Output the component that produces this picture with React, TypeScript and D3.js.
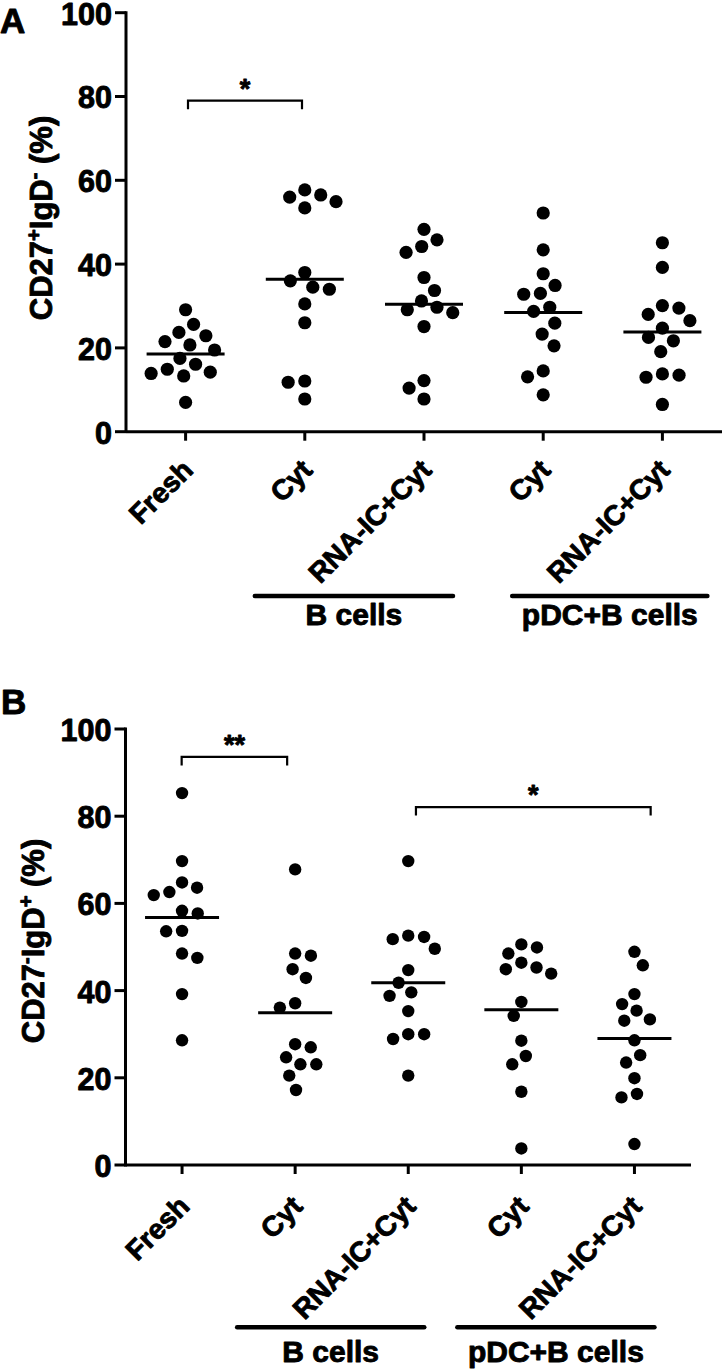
import React from "react";
import * as d3 from "d3";

// ---------- data ----------
const categories = ["Fresh", "Cyt", "RNA-IC+Cyt", "Cyt", "RNA-IC+Cyt"];
const groupLabels = ["B cells", "pDC+B cells"];
const yTicks = [0, 20, 40, 60, 80, 100];

// Panel A: CD27+IgD- (%)
const freshA = [29.1, 25.6, 23.7, 22.9, 21.5, 20.7, 19.5, 17.5, 16.1, 14.9, 14.2, 13.9, 13.3, 7.0];
const cytA = [57.7, 56.5, 56.0, 54.9, 53.4, 38.0, 36.0, 34.5, 34.0, 30.5, 26.0, 12.1, 11.8, 7.8];
const rnaA = [48.3, 45.8, 44.2, 42.8, 36.8, 33.7, 31.2, 29.7, 29.1, 28.4, 25.1, 12.2, 10.4, 7.8];
const pdcCytA = [52.2, 43.4, 37.7, 34.9, 33.0, 32.8, 29.7, 28.7, 25.9, 23.3, 20.5, 14.5, 13.1, 8.8];
const pdcRnaA = [45.1, 39.2, 30.1, 29.5, 28.0, 26.5, 24.7, 22.5, 21.7, 19.1, 13.8, 13.5, 13.0, 6.5];

// Panel B: CD27-IgD+ (%)
const freshB = [85.3, 69.7, 64.8, 63.6, 62.6, 61.9, 58.3, 57.7, 53.7, 53.6, 48.5, 47.5, 39.2, 28.6];
const cytB = [67.8, 48.5, 48.0, 44.9, 42.9, 37.1, 36.1, 27.7, 27.0, 24.7, 23.1, 23.1, 20.5, 17.2];
const rnaB = [69.7, 52.6, 52.3, 51.8, 49.6, 44.7, 41.8, 39.6, 38.8, 35.3, 30.0, 30.0, 28.9, 20.5];
const pdcCytB = [50.6, 49.9, 48.5, 46.4, 45.3, 44.9, 43.9, 37.4, 34.2, 28.5, 25.0, 23.1, 16.8, 3.8];
const pdcRnaB = [48.9, 45.8, 39.2, 36.9, 35.4, 33.4, 33.1, 28.6, 25.2, 23.5, 19.9, 16.3, 15.5, 4.8];

const valuesA = [freshA, cytA, rnaA, pdcCytA, pdcRnaA];
const valuesB = [freshB, cytB, rnaB, pdcCytB, pdcRnaB];

// significance brackets: category indices, y value, label
const bracketsA = [{ from: 0, to: 1, value: 79.0, label: "*" }];
const bracketsB = [
  { from: 0, to: 1, value: 93.6, label: "**" },
  { from: 2, to: 4, value: 82.1, label: "*" },
];

// ---------- layout ----------
const FONT = "'Liberation Sans', Arial, Helvetica, sans-serif";
const TXT_STROKE = 0.9;

const layoutA = {
  letter: "A", letterX: 0, letterY: 33,
  x0: 126, x1: 722, yTop: 12.7, yBottom: 431.7,
  titleX: 52, titleY: 218,
  r: 6.6, meanHalf: 39,
  labelDx: 9, labelDy: 40,
  barY: 596, textY: 625,
  bars: [{ from: 1, to: 2, dx0: -50, dx1: 29 }, { from: 3, to: 4, dx0: -31, dx1: 45 }],
  bracketDx: [[2.4, -2.8]],
  sup1: "+", sup2: "-",
};
const layoutB = {
  letter: "B", letterX: 1, letterY: 714,
  x0: 125.5, x1: 691, yTop: 729, yBottom: 1165,
  titleX: 44, titleY: 941,
  r: 6.2, meanHalf: 37,
  labelDx: 9, labelDy: 43,
  barY: 1327.3, textY: 1362,
  bars: [{ from: 1, to: 2, dx0: -58, dx1: 16 }, { from: 3, to: 4, dx0: -64, dx1: 20 }],
  bracketDx: [[-0.4, -8], [7.7, 16.2]],
  sup1: "-", sup2: "+",
};

function swarm(vals: number[], y: (v: number) => number, D: number) {
  const order = vals.map((v, i) => i).sort((a, b) => vals[b] - vals[a]);
  const placed: { x: number; y: number; i: number }[] = [];
  let lastSign = -1;
  for (const i of order) {
    const py = y(vals[i]);
    const cands = [0];
    for (const p of placed) {
      const dy = Math.abs(p.y - py);
      if (dy < D) {
        const h = Math.sqrt(D * D - dy * dy);
        cands.push(p.x + h, p.x - h);
      }
    }
    const valid = cands.filter((c) =>
      placed.every((p) => (c - p.x) ** 2 + (py - p.y) ** 2 >= D * D - 1e-6)
    );
    valid.sort((a, b) => {
      const d = Math.abs(a) - Math.abs(b);
      if (Math.abs(d) > 0.5) return d;
      return (Math.sign(a) === -lastSign ? -1 : 1) - (Math.sign(b) === -lastSign ? -1 : 1);
    });
    const x = valid[0];
    if (x !== 0) lastSign = Math.sign(x);
    placed.push({ x, y: py, i });
  }
  return placed;
}

function Panel({ L, values, brackets }: any) {
  const x = d3.scaleBand<number>().domain(d3.range(categories.length)).range([L.x0, L.x1]);
  const cx = (i: number) => (x(i) as number) + x.bandwidth() / 2;
  const y = d3.scaleLinear().domain([0, 100]).range([L.yBottom, L.yTop]);

  return (
    <g>
      <g fontFamily={FONT} fontWeight="bold" stroke="#000" strokeWidth={TXT_STROKE} strokeLinejoin="round">
        <text x={L.letterX} y={L.letterY} fontSize={35}>{L.letter}</text>
        {yTicks.map((t) => (
          <text key={t} x={L.x0 - 14} y={y(t) + 1} dy="0.36em" textAnchor="end" fontSize={30.5}>{t}</text>
        ))}
        <text transform={`translate(${L.titleX},${L.titleY}) rotate(-90)`} textAnchor="middle" fontSize={31}>
          CD27<tspan baselineShift="super" fontSize="0.65em">{L.sup1}</tspan>IgD
          <tspan baselineShift="super" fontSize="0.65em">{L.sup2}</tspan> (%)
        </text>
        {categories.map((c, i) => (
          <text
            key={i}
            transform={`translate(${cx(i) + L.labelDx},${y(0) + L.labelDy}) rotate(-45)`}
            textAnchor="end"
            fontSize={28}
          >
            {c}
          </text>
        ))}
        {L.bars.map((b: any, k: number) => {
          const a = cx(b.from) + b.dx0;
          const e = cx(b.to) + b.dx1;
          return (
            <text key={k} x={(a + e) / 2} y={L.textY} textAnchor="middle" fontSize={30}>{groupLabels[k]}</text>
          );
        })}
        {brackets.map((b: any, k: number) => {
          const a = cx(b.from) + L.bracketDx[k][0];
          const e = cx(b.to) + L.bracketDx[k][1];
          return (
            <text key={k} x={(a + e) / 2} y={y(b.value) - 3} textAnchor="middle" fontSize={27}>{b.label}</text>
          );
        })}
      </g>

      {/* y axis */}
      <line x1={L.x0} x2={L.x0} y1={y(100) - 1.4} y2={y(0) + 1.4} stroke="#000" strokeWidth={3} />
      {yTicks.map((t) => (
        <line key={t} x1={L.x0 - 11} x2={L.x0} y1={y(t)} y2={y(t)} stroke="#000" strokeWidth={3} />
      ))}

      {/* x axis */}
      <line x1={L.x0} x2={L.x1} y1={y(0)} y2={y(0)} stroke="#000" strokeWidth={3} />
      {categories.map((c, i) => (
        <line key={i} x1={cx(i)} x2={cx(i)} y1={y(0)} y2={y(0) + 9} stroke="#000" strokeWidth={3} />
      ))}

      {/* group bars */}
      {L.bars.map((b: any, k: number) => (
        <line
          key={k}
          x1={cx(b.from) + b.dx0}
          x2={cx(b.to) + b.dx1}
          y1={L.barY}
          y2={L.barY}
          stroke="#000"
          strokeWidth={4.5}
          strokeLinecap="round"
        />
      ))}

      {/* mean lines */}
      {values.map((vals: number[], i: number) => {
        const m = d3.mean(vals) as number;
        return (
          <line key={i} x1={cx(i) - L.meanHalf} x2={cx(i) + L.meanHalf} y1={y(m)} y2={y(m)} stroke="#000" strokeWidth={3} />
        );
      })}

      {/* dots */}
      {values.map((vals: number[], i: number) =>
        swarm(vals, y, 2 * L.r + 3.5).map((p) => (
          <circle key={`${i}-${p.i}`} cx={cx(i) + p.x} cy={p.y} r={L.r} fill="#000" />
        ))
      )}

      {/* brackets */}
      {brackets.map((b: any, k: number) => {
        const a = cx(b.from) + L.bracketDx[k][0];
        const e = cx(b.to) + L.bracketDx[k][1];
        const by = y(b.value);
        return (
          <path key={k} d={`M${a},${by + 8.5}V${by}H${e}V${by + 8.5}`} fill="none" stroke="#000" strokeWidth={2.2} />
        );
      })}
    </g>
  );
}

export default function App() {
  return (
    <svg
      width={723}
      height={1370}
      style={{ position: "absolute", left: 0, top: 0, background: "#fff" }}
    >
      <Panel L={layoutA} values={valuesA} brackets={bracketsA} />
      <Panel L={layoutB} values={valuesB} brackets={bracketsB} />
    </svg>
  );
}
